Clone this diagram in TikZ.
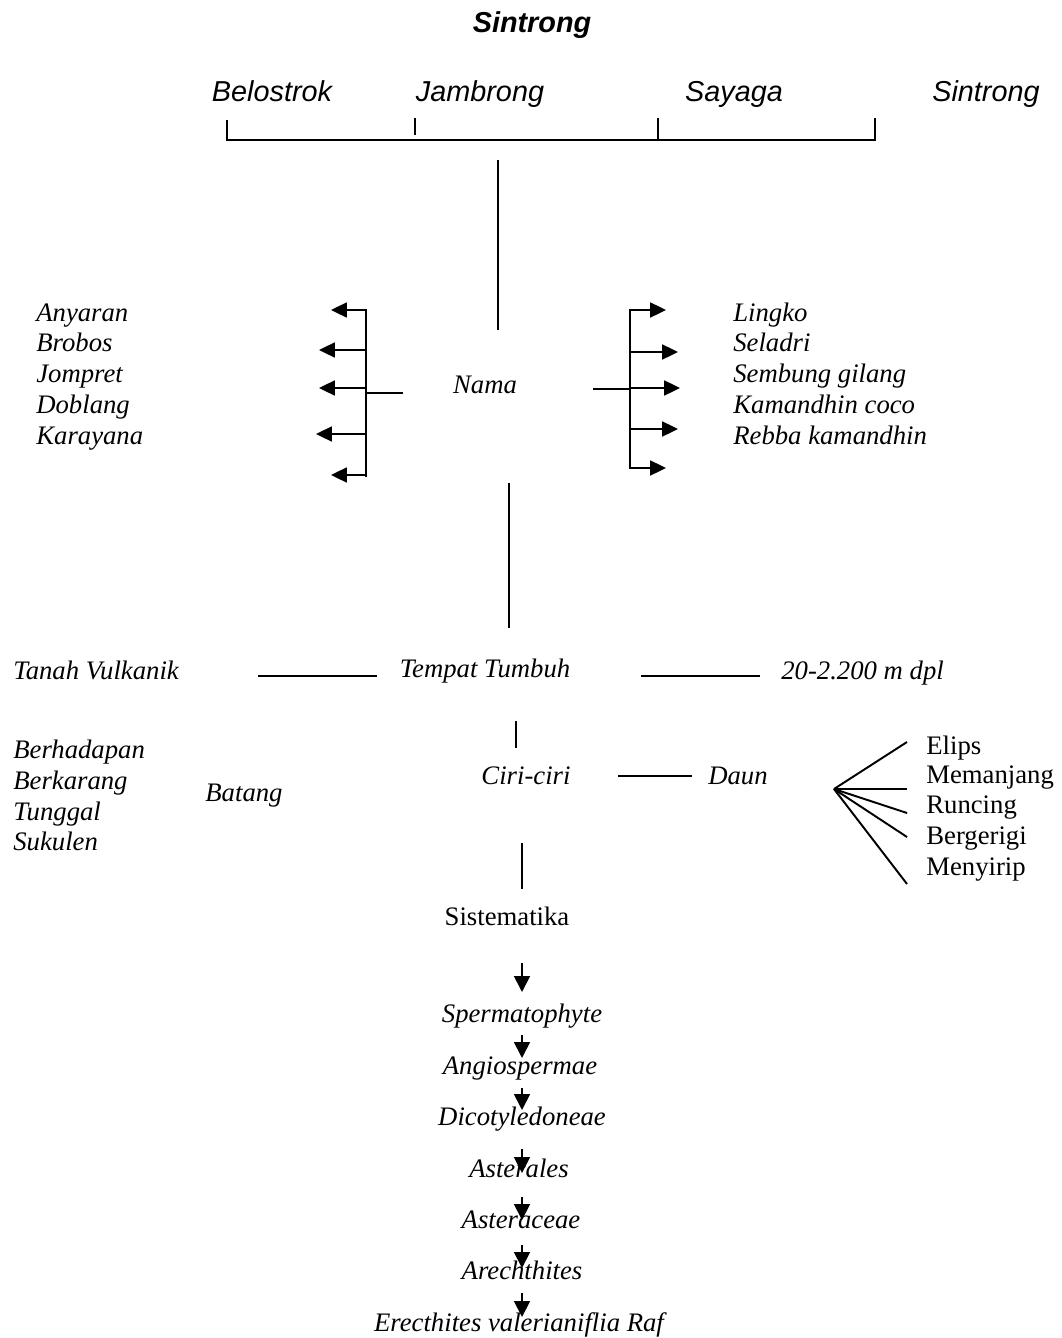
\documentclass[tikz,border=0pt]{standalone}
\usepackage{fontspec}
\setmainfont{Liberation Serif}
\setsansfont{Liberation Sans}
\usetikzlibrary{arrows.meta,calc}

\begin{document}
\begin{tikzpicture}[x=0.02cm,y=-0.02cm]
\tikzstyle{conn}=[line width=1.1pt];
\tikzstyle{alloc}=[line width=1.1pt,-{Triangle[length=9pt,width=8.5pt]}];
\tikzstyle{down}=[line width=1pt,-{Triangle[length=9pt,width=9pt]}];
\tikzstyle{ttl}=[font=\fontsize{16.4}{19}\selectfont\sffamily\bfseries\itshape,inner sep=0pt,anchor=base];
\tikzstyle{loc}=[font=\fontsize{16.4}{19}\selectfont\sffamily\itshape,inner sep=0pt,anchor=base];
\tikzstyle{lat}=[font=\fontsize{15.2}{17}\selectfont\itshape,inner sep=0pt,anchor=base];
\tikzstyle{itm}=[lat,anchor=base west];
\tikzstyle{lf}=[font=\fontsize{15.2}{17}\selectfont,inner sep=0pt,anchor=base west];
\useasboundingbox (0,0) rectangle (1061,1338);

% local names
\node [ttl] (t0) at (532,33) {Sintrong};
\node [loc] (l1) at (272,102) {Belostrok};
\node [loc] (l2) at (480,102) {Jambrong};
\node [loc] (l3) at (734,102) {Sayaga};
\node [loc] (l4) at (986,102) {Sintrong};
\draw [conn] (227,120) -- (227,140) -- (875,140) -- (875,118);
\draw [conn] (415,118) -- (415,135);
\draw [conn] (658,118) -- (658,140);
\draw [conn] (498,160) -- (498,330);

% nama
\node [lat] (nama) at (485,393) {Nama};
\node [itm] (a1) at (36,321) {Anyaran};
\node [itm] (a2) at (36,351) {Brobos};
\node [itm] (a3) at (36,382) {Jompret};
\node [itm] (a4) at (36,413) {Doblang};
\node [itm] (a5) at (36,444) {Karayana};
\node [itm] (b1) at (733,321) {Lingko};
\node [itm] (b2) at (733,351) {Seladri};
\node [itm] (b3) at (733,382) {Sembung gilang};
\node [itm] (b4) at (733,413) {Kamandhin coco};
\node [itm] (b5) at (733,444) {Rebba kamandhin};

\draw [conn] (403,393) -- (366,393);
\draw [conn] (366,309) -- (366,477);
\foreach \y/\x in {310/331,350/319,388/319,434/316,475/331}
  \draw [alloc] (366,\y) -- (\x,\y);
\draw [conn] (593,389) -- (630,389);
\draw [conn] (630,309) -- (630,469);
\foreach \y/\x in {310/666,352/678,388/680,429/678,468/666}
  \draw [alloc] (630,\y) -- (\x,\y);
\draw [conn] (509,483) -- (509,628);

% tempat tumbuh
\node [lat] (tt) at (485,677) {Tempat Tumbuh};
\node [itm] (tv) at (13,679) {Tanah Vulkanik};
\node [itm] (dpl) at (781,679) {20-2.200 m dpl};
\draw [conn] (258,676) -- (377,676);
\draw [conn] (641,676) -- (760,676);
\draw [conn] (516,721) -- (516,748);

% ciri-ciri
\node [lat] (ciri) at (526,784) {Ciri-ciri};
\node [lat] (daun) at (738,784) {Daun};
\node [lat] (batang) at (244,801) {Batang};
\node [itm] (c1) at (13,758) {Berhadapan};
\node [itm] (c2) at (13,789) {Berkarang};
\node [itm] (c3) at (13,820) {Tunggal};
\node [itm] (c4) at (13,850) {Sukulen};
\draw [conn] (618,776) -- (692,776);
\node [lf] (d1) at (926,754) {Elips};
\node [lf] (d2) at (926,783) {Memanjang};
\node [lf] (d3) at (926,813) {Runcing};
\node [lf] (d4) at (926,844) {Bergerigi};
\node [lf] (d5) at (926,875) {Menyirip};
\coordinate (fan) at (834,789);
\foreach \y in {742,789,813,837,884}
  \draw [conn] (fan) -- (907,\y);
\draw [conn] (522,843) -- (522,889);

% sistematika
\node [lf,anchor=base] (sis) at (507,925) {Sistematika};
\node [lat] (sp) at (522,1022) {Spermatophyte};
\node [lat] (an) at (520,1074) {Angiospermae};
\node [lat] (di) at (522,1125) {Dicotyledoneae};
\node [lat] (as) at (519,1177) {Asterales};
\node [lat] (ac) at (521,1228) {Asteraceae};
\node [lat] (ar) at (522,1279) {Arechthites};
\node [lat] (er) at (519,1331) {Erecthites valerianiflia Raf};
\foreach \a/\b/\s/\e in {sis/sp/38/30,sp/an/13/16,an/di/14/15,di/as/24/4,as/ac/20/8,ac/ar/17/11,ar/er/14/14}
  \draw [down] ($(sp.base |- \a.base)+(0,\s)$) -- ($(sp.base |- \b.base)+(0,-\e)$);
\end{tikzpicture}
\end{document}
